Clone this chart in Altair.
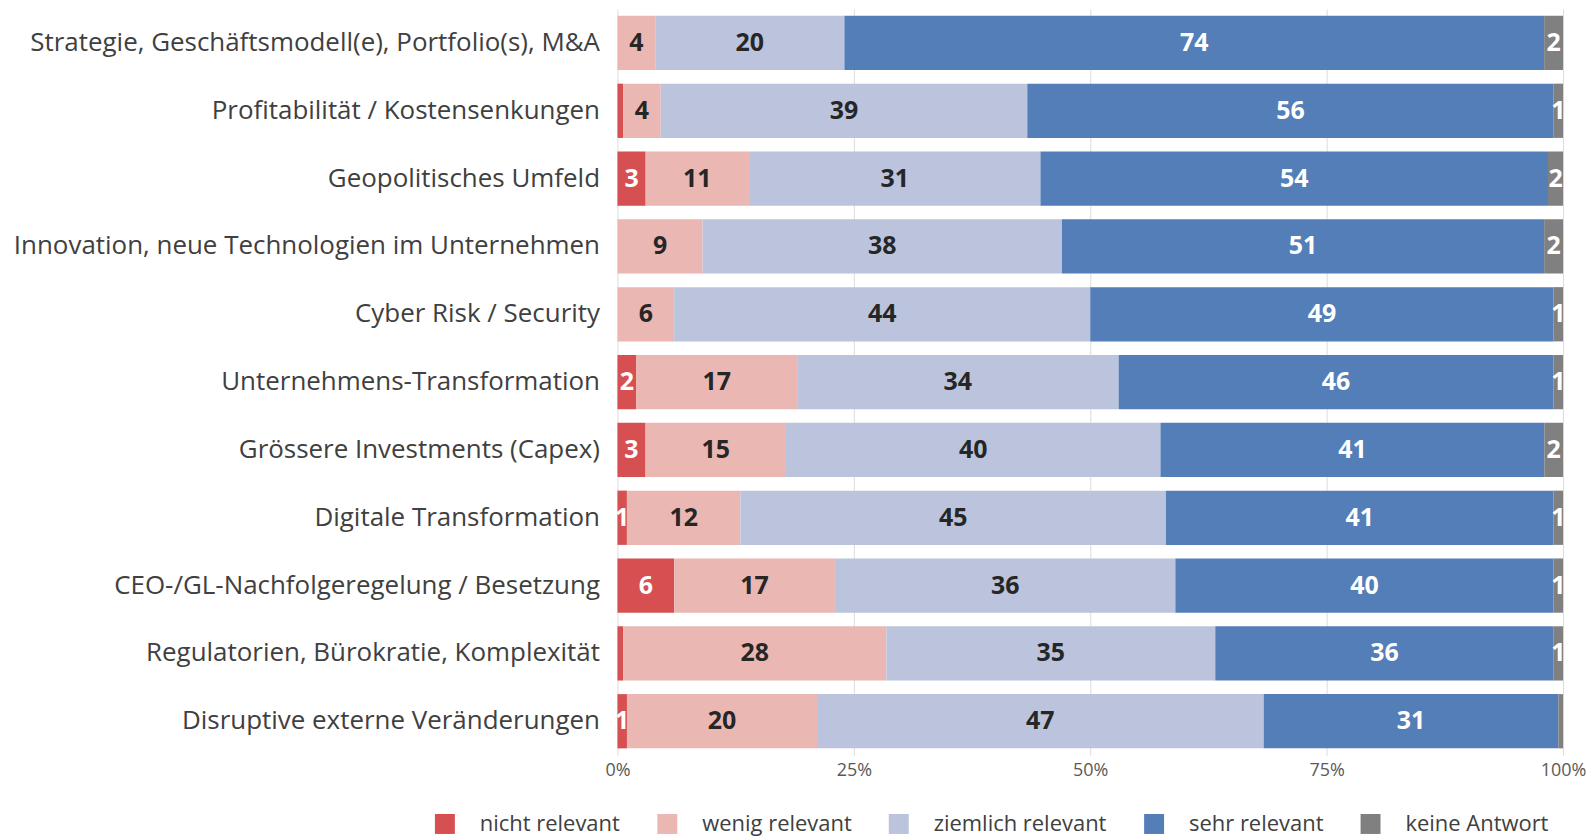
import altair as alt
import pandas as pd

categories = [
    "Strategie, Geschäftsmodell(e), Portfolio(s), M&A",
    "Profitabilität / Kostensenkungen",
    "Geopolitisches Umfeld",
    "Innovation, neue Technologien im Unternehmen",
    "Cyber Risk / Security",
    "Unternehmens-Transformation",
    "Grössere Investments (Capex)",
    "Digitale Transformation",
    "CEO-/GL-Nachfolgeregelung / Besetzung",
    "Regulatorien, Bürokratie, Komplexität",
    "Disruptive externe Veränderungen",
]
responses = ["nicht relevant", "wenig relevant", "ziemlich relevant", "sehr relevant", "keine Antwort"]
colors = ["#d64f51", "#eab7b3", "#bbc4dc", "#547eb8", "#808080"]

nicht_relevant = [0, 0.6, 3, 0, 0, 2, 3, 1, 6, 0.6, 1]
wenig_relevant = [4, 4, 11, 9, 6, 17, 15, 12, 17, 28, 20]
ziemlich_relevant = [20, 39, 31, 38, 44, 34, 40, 45, 36, 35, 47]
sehr_relevant = [74, 56, 54, 51, 49, 46, 41, 41, 40, 36, 31]
keine_antwort = [2, 1, 1.6, 2, 1, 1, 2, 1, 1, 1, 0.5]

series = [nicht_relevant, wenig_relevant, ziemlich_relevant, sehr_relevant, keine_antwort]
rows = []
for ri, (resp, vals) in enumerate(zip(responses, series)):
    for cat, v in zip(categories, vals):
        rows.append({"cat": cat, "resp": resp, "ord": ri, "value": v})
df = pd.DataFrame(rows)

FONT = "Open Sans"

base = alt.Chart(df).transform_stack(
    stack="value", groupby=["cat"], sort=[alt.SortField("ord", order="ascending")],
    as_=["v0", "v1"], offset="normalize"
).transform_calculate(
    mid="(datum.v0 + datum.v1) / 2",
    label="datum.value >= 1 ? format(datum.value, '.0f') : ''",
    tc="(datum.resp == 'wenig relevant' || datum.resp == 'ziemlich relevant') ? '#262626' : '#ffffff'",
)

y_enc = alt.Y(
    "cat:N", sort=categories, title=None,
    scale=alt.Scale(paddingInner=0.2, paddingOuter=0.1),
    axis=alt.Axis(labelFont=FONT, labelFontSize=26, labelColor="#404040", ticks=False,
                  domain=False, labelPadding=18, labelLimit=600, minExtent=604, maxExtent=604),
)

bars = base.mark_bar().encode(
    x=alt.X("v0:Q", title=None, scale=alt.Scale(domain=[0, 1]),
            axis=alt.Axis(values=[0, 0.25, 0.5, 0.75, 1], format=".0%", grid=True,
                          gridColor="#dcdcdc", gridWidth=1, domain=False, ticks=False,
                          labelFont=FONT, labelFontSize=18, labelColor="#595959",
                          labelPadding=6, labelFlush=False)),
    x2="v1:Q",
    y=y_enc,
    color=alt.Color("resp:N", sort=responses, title=None,
                    scale=alt.Scale(domain=responses, range=colors),
                    legend=alt.Legend(orient="none", direction="horizontal", legendX=-184,
                                      legendY=806, symbolType="square", symbolSize=400,
                                      symbolStrokeWidth=0, labelFont=FONT, labelFontSize=22,
                                      labelColor="#404040", labelOffset=24, columnPadding=36,
                                      labelLimit=300, padding=0)),
    order=alt.Order("ord:Q"),
)

texts = base.mark_text(font=FONT, fontSize=25, fontWeight="bold").encode(
    x=alt.X("mid:Q"),
    y=alt.Y("cat:N", sort=categories),
    text="label:N",
    color=alt.Color("tc:N", scale=None),
)

chart = alt.layer(bars, texts).properties(
    width=948, height=748,
    padding={"left": 5, "top": 0, "right": 0, "bottom": 0},
).configure_view(stroke=None)

chart.save("out.html", embed_options={"renderer": "svg", "actions": False})
